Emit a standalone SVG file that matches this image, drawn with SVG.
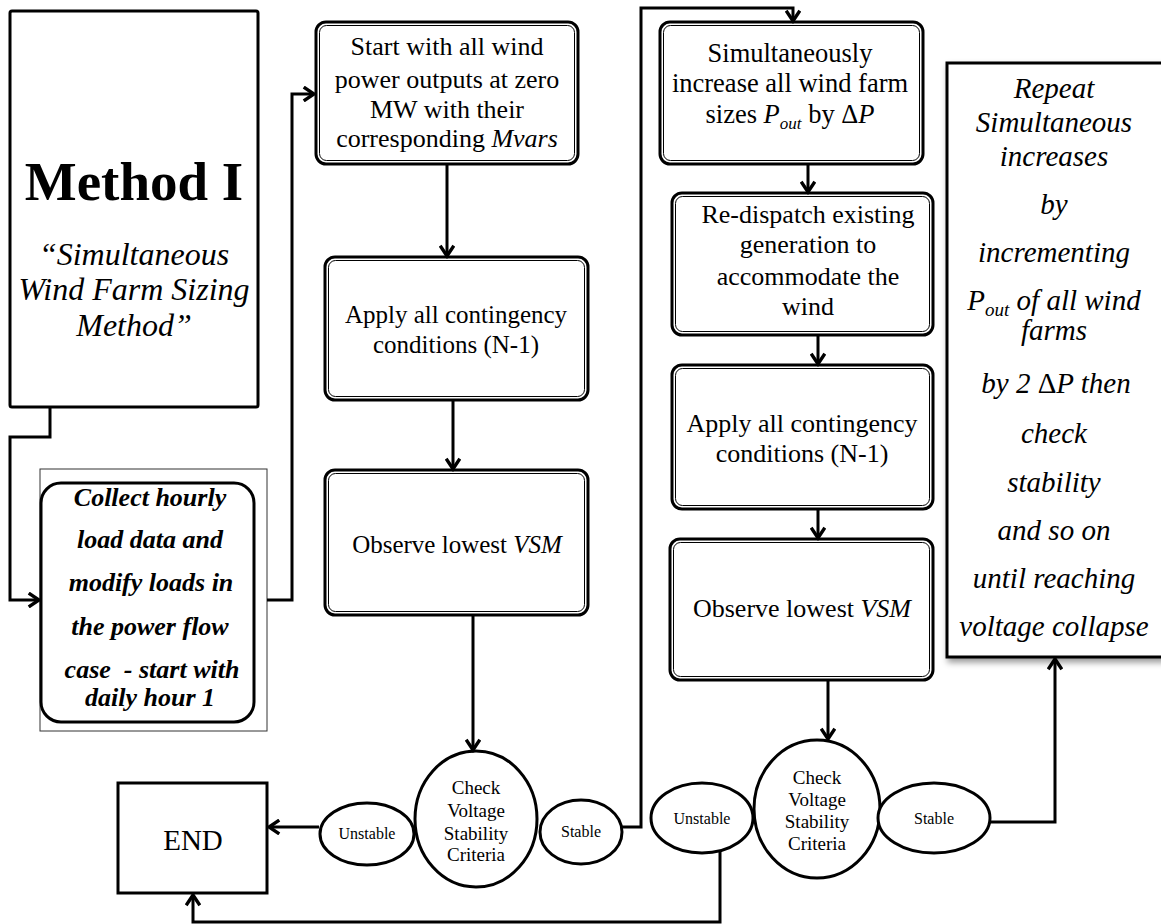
<svg xmlns="http://www.w3.org/2000/svg" width="1161" height="924" viewBox="0 0 1161 924">
<style>
.frame{fill:#fff;stroke:#000;stroke-width:3}
.inner{fill:none;stroke:#000;stroke-width:1}
.t{font-family:"Liberation Serif","Times New Roman",serif;fill:#000;text-anchor:middle}
.i{font-style:italic}
.conn{fill:none;stroke:#000;stroke-width:3}
</style>
<defs>
<marker id="arr" markerUnits="userSpaceOnUse" markerWidth="16" markerHeight="16" refX="11" refY="7" orient="auto" viewBox="0 0 14 14">
<path d="M2,1 L11,7 L2,13" fill="none" stroke="#000" stroke-width="3"/>
</marker>
<filter id="shadow" x="-10%" y="-10%" width="130%" height="130%">
<feDropShadow dx="2" dy="4" stdDeviation="3" flood-color="#000" flood-opacity="0.4"/>
</filter>
</defs>
<rect width="1161" height="924" fill="#fff"/>

<g id="method">
<rect class="frame" x="10" y="11" width="248" height="396" rx="2"/>
<text class="t" x="134" y="200" font-size="55" font-weight="bold">Method I</text>
<text class="t i" x="134" y="265" font-size="32">“Simultaneous</text>
<text class="t i" x="134" y="300" font-size="32">Wind Farm Sizing</text>
<text class="t i" x="134" y="336" font-size="32">Method”</text>
</g>

<g id="collect">
<rect x="40" y="469" width="227" height="262" fill="#fff" stroke="#333" stroke-width="1"/>
<rect class="frame" x="41" y="483" width="213" height="239" rx="20"/>
<g class="t i" font-weight="bold" font-size="26">
<text x="150" y="506">Collect hourly</text>
<text x="150" y="548">load data and</text>
<text x="151" y="591">modify loads in</text>
<text x="150" y="635">the power flow</text>
<text x="152" y="678" style="white-space:pre">case  - start with</text>
<text x="150" y="706">daily hour 1</text>
</g>
</g>

<g id="start">
<rect class="frame" x="316" y="22" width="262" height="142" rx="10"/>
<rect class="inner" x="319.5" y="25.5" width="255" height="135" rx="7"/>
<g class="t" font-size="26">
<text x="447" y="55">Start with all wind</text>
<text x="447" y="88">power outputs at zero</text>
<text x="447" y="118">MW with their</text>
<text x="447" y="147">corresponding <tspan class="i">Mvars</tspan></text>
</g>
</g>

<g id="apply1">
<rect class="frame" x="325" y="257" width="263" height="143" rx="10"/>
<rect class="inner" x="328.5" y="260.5" width="256" height="136" rx="7"/>
<g class="t" font-size="25">
<text x="456" y="323">Apply all contingency</text>
<text x="456" y="353">conditions (N-1)</text>
</g>
</g>

<g id="observe1">
<rect class="frame" x="325" y="470" width="263" height="145" rx="10"/>
<rect class="inner" x="328.5" y="473.5" width="256" height="138" rx="7"/>
<text class="t" x="457" y="553" font-size="25">Observe lowest <tspan class="i">VSM</tspan></text>
</g>

<g id="check1">
<ellipse class="frame" cx="476" cy="819" rx="61" ry="68"/>
<g class="t" font-size="19">
<text x="476" y="794">Check</text>
<text x="476" y="817">Voltage</text>
<text x="476" y="840">Stability</text>
<text x="476" y="861">Criteria</text>
</g>
</g>

<g id="unstable1">
<ellipse class="frame" cx="367" cy="834" rx="47" ry="31"/>
<text class="t" x="367" y="839" font-size="16">Unstable</text>
</g>

<g id="stable1">
<ellipse class="frame" cx="581" cy="832" rx="41" ry="32"/>
<text class="t" x="581" y="837" font-size="16">Stable</text>
</g>

<g id="end">
<rect class="frame" x="118" y="783" width="149" height="110"/>
<text class="t" x="193" y="850" font-size="29">END</text>
</g>

<g id="increase">
<rect class="frame" x="660" y="22" width="263" height="142" rx="10"/>
<rect class="inner" x="663.5" y="25.5" width="256" height="135" rx="7"/>
<g class="t" font-size="26.5">
<text x="790" y="62">Simultaneously</text>
<text x="790" y="92">increase all wind farm</text>
<text x="790" y="123">sizes <tspan class="i">P</tspan><tspan class="i" font-size="17" dy="6">out</tspan><tspan dy="-6"> by Δ</tspan><tspan class="i">P</tspan></text>
</g>
</g>

<g id="redispatch">
<rect class="frame" x="672" y="193" width="261" height="142" rx="10"/>
<rect class="inner" x="675.5" y="196.5" width="254" height="135" rx="7"/>
<g class="t" font-size="26">
<text x="808" y="223">Re-dispatch existing</text>
<text x="808" y="253">generation to</text>
<text x="808" y="285">accommodate the</text>
<text x="808" y="315">wind</text>
</g>
</g>

<g id="apply2">
<rect class="frame" x="672" y="365" width="261" height="144" rx="10"/>
<rect class="inner" x="675.5" y="368.5" width="254" height="137" rx="7"/>
<g class="t" font-size="26">
<text x="802" y="432">Apply all contingency</text>
<text x="802" y="462">conditions (N-1)</text>
</g>
</g>

<g id="observe2">
<rect class="frame" x="670" y="539" width="263" height="141" rx="10"/>
<rect class="inner" x="673.5" y="542.5" width="256" height="134" rx="7"/>
<text class="t" x="802" y="617" font-size="26">Observe lowest <tspan class="i">VSM</tspan></text>
</g>

<g id="check2">
<ellipse class="frame" cx="817" cy="809" rx="63" ry="69"/>
<g class="t" font-size="19">
<text x="817" y="784">Check</text>
<text x="817" y="806">Voltage</text>
<text x="817" y="828">Stability</text>
<text x="817" y="850">Criteria</text>
</g>
</g>

<g id="unstable2">
<ellipse class="frame" cx="702" cy="818" rx="51" ry="35"/>
<text class="t" x="702" y="824" font-size="16">Unstable</text>
</g>

<g id="stable2">
<ellipse class="frame" cx="934" cy="818" rx="56" ry="35"/>
<text class="t" x="934" y="824" font-size="16">Stable</text>
</g>

<g id="repeat">
<rect x="947" y="63" width="216" height="594" fill="#fff" stroke="#000" stroke-width="3" filter="url(#shadow)"/>
<g class="t i" font-size="29">
<text x="1054" y="98">Repeat</text>
<text x="1054" y="132">Simultaneous</text>
<text x="1054" y="166">increases</text>
<text x="1054" y="214">by</text>
<text x="1054" y="262">incrementing</text>
<text x="1054" y="310">P<tspan font-size="19" dy="6">out</tspan><tspan dy="-6"> of all wind</tspan></text>
<text x="1054" y="340">farms</text>
<text x="1056" y="393">by 2 <tspan font-style="normal">Δ</tspan>P then</text>
<text x="1054" y="443">check</text>
<text x="1054" y="492">stability</text>
<text x="1054" y="540">and so on</text>
<text x="1054" y="588">until reaching</text>
<text x="1054" y="636">voltage collapse</text>
</g>
</g>

<g id="connectors" class="conn">
<path d="M50,407 V437 H10 V600 H39" marker-end="url(#arr)"/>
<path d="M267,600 H292 V94 H314" marker-end="url(#arr)"/>
<path d="M447,164 V256" marker-end="url(#arr)"/>
<path d="M453,400 V469" marker-end="url(#arr)"/>
<path d="M473,615 V750" marker-end="url(#arr)"/>
<path d="M319,827 H269" marker-end="url(#arr)"/>
<path d="M621,827 H641 V8 H793 V21" marker-end="url(#arr)"/>
<path d="M808,164 V192" marker-end="url(#arr)"/>
<path d="M818,335 V364" marker-end="url(#arr)"/>
<path d="M818,509 V538" marker-end="url(#arr)"/>
<path d="M828,680 V739" marker-end="url(#arr)"/>
<path d="M720,852 V922 H193 V895" marker-end="url(#arr)"/>
<path d="M990,822 H1055 V659" marker-end="url(#arr)"/>
</g>
</svg>
